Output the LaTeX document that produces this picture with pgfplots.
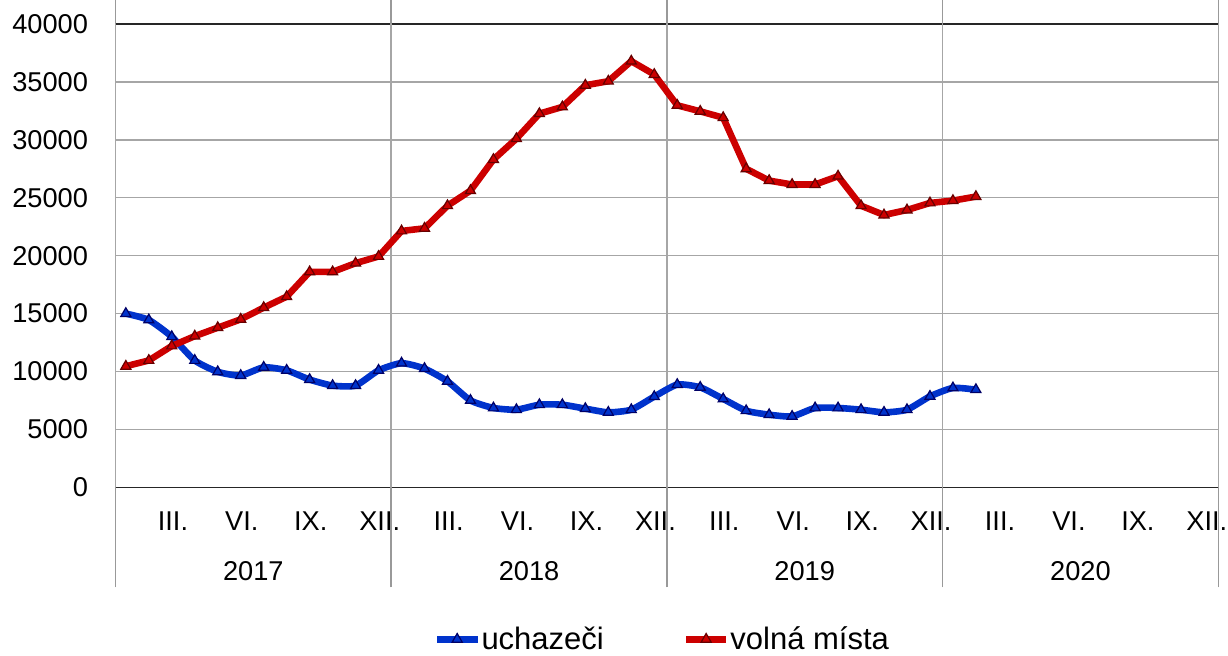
\documentclass[border=0pt]{standalone}
\usepackage{pgfplots}
\pgfplotsset{compat=1.18}
\usepackage{fontspec}
\setmainfont{Liberation Sans}
\definecolor{cblue}{RGB}{0,51,204}
\definecolor{cred}{RGB}{204,0,0}
\newcommand{\lblfont}{\fontsize{13.6bp}{15bp}\selectfont}
\newcommand{\legfont}{\fontsize{15.5bp}{17bp}\selectfont}
\begin{document}
\begin{tikzpicture}
\useasboundingbox (-57.75bp,-84.35bp) rectangle (556.25bp,243.65bp);
\begin{axis}[
  at={(0,0)}, anchor=south west,
  scale only axis,
  width=551.4bp, height=231.65bp,
  xmin=0, xmax=48, ymin=0, ymax=40000,
  clip=false,
  axis line style={black!85, line width=0.75bp},
  ytick={0,5000,...,40000},
  ymajorgrids,
  major grid style={gray!70, line width=0.75bp},
  /pgf/number format/.cd, assume math mode=true, set thousands separator={}, 1000 sep={},
  /pgfplots/.cd,
  scaled y ticks=false,
  yticklabel style={anchor=east, inner sep=0pt, xshift=-13.6bp, font=\lblfont},
  ytick style={draw=none},
  xtick={2.5,5.5,8.5,11.5,14.5,17.5,20.5,23.5,26.5,29.5,32.5,35.5,38.5,41.5,44.5,47.5},
  xticklabels={III.,VI.,IX.,XII.,III.,VI.,IX.,XII.,III.,VI.,IX.,XII.,III.,VI.,IX.,XII.},
  xticklabel style={anchor=center, inner sep=0pt, yshift=-16.9bp, font=\lblfont},
  major tick length=0pt,
  extra x ticks={0,12,24,36,48},
  extra x tick labels={},
  extra x tick style={grid=major, major tick length=50bp, tick align=outside, tick style={draw=gray!80, line width=0.75bp}},
  legend columns=2,
  legend style={at={(0.4955,-0.328)}, anchor=center, draw=none, fill=none, font=\legfont,
    /tikz/every even column/.append style={column sep=39bp},
    nodes={inner xsep=0.5bp, inner ysep=1bp}},
  legend image code/.code={\draw[mark repeat=2,mark phase=2,#1] plot coordinates {(0bp,0bp) (10bp,0bp) (20bp,0bp)};},
]
\addplot[cblue, line width=3.3bp, smooth, tension=0.35, mark=triangle*, mark size=2.9bp,
  mark options={fill=cblue, draw=blue!40!black, line width=0.6bp, solid}] table[x=x, y=u] {
x u
0.45 15000
1.45 14450
2.45 13000
3.45 10950
4.45 9970
5.45 9650
6.45 10360
7.45 10100
8.45 9300
9.45 8780
10.45 8780
11.45 10100
12.45 10720
13.45 10250
14.45 9150
15.45 7500
16.45 6850
17.45 6700
18.45 7130
19.45 7130
20.45 6790
21.45 6470
22.45 6700
23.45 7830
24.45 8870
25.45 8630
26.45 7630
27.45 6610
28.45 6270
29.45 6120
30.45 6850
31.45 6850
32.45 6700
33.45 6470
34.45 6700
35.45 7850
36.45 8580
37.45 8430
};
\addlegendentry{uchazeči}
\addplot[cred, line width=3.3bp, mark=triangle*, mark size=2.9bp,
  mark options={fill=cred, draw=red!40!black, line width=0.6bp, solid}] table[x=x, y=v] {
x v
0.45 10450
1.45 10950
2.45 12200
3.45 13050
4.45 13780
5.45 14500
6.45 15510
7.45 16460
8.45 18600
9.45 18600
10.45 19350
11.45 19930
12.45 22130
13.45 22360
14.45 24310
15.45 25610
16.45 28300
17.45 30100
18.45 32260
19.45 32840
20.45 34710
21.45 35060
22.45 36790
23.45 35640
24.45 32980
25.45 32460
26.45 31910
27.45 27500
28.45 26480
29.45 26140
30.45 26140
31.45 26860
32.45 24310
33.45 23510
34.45 23940
35.45 24550
36.45 24750
37.45 25100
};
\addlegendentry{volná místa}
\node[font=\lblfont] at (axis cs:6,0) [yshift=-41.9bp] {2017};
\node[font=\lblfont] at (axis cs:18,0) [yshift=-41.9bp] {2018};
\node[font=\lblfont] at (axis cs:30,0) [yshift=-41.9bp] {2019};
\node[font=\lblfont] at (axis cs:42,0) [yshift=-41.9bp] {2020};
\end{axis}
\end{tikzpicture}
\end{document}
